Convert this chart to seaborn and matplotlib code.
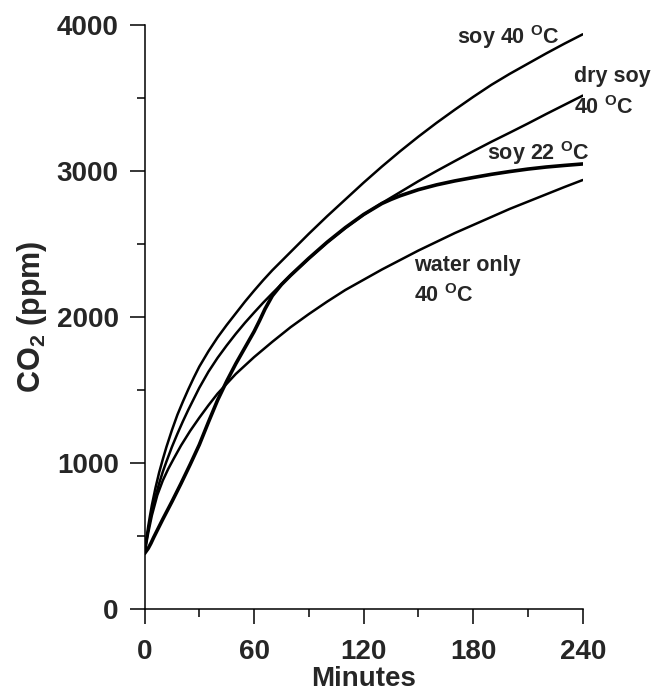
import matplotlib
matplotlib.use('Agg')
import matplotlib.pyplot as plt
import seaborn as sns
from matplotlib.ticker import MultipleLocator

# Data (minutes, ppm CO2)
soy40_t = [0, 1, 2, 3, 4, 6, 8, 10, 12, 15, 18, 21, 24, 27, 30, 35, 40, 45, 50, 55, 60, 65, 70,
           80, 90, 100, 110, 120, 130, 140, 150, 160, 170, 180, 190, 200, 210, 220, 230, 240]
soy40_v = [380, 480, 565, 640, 710, 830, 935, 1025, 1110, 1225, 1330, 1420, 1505, 1585, 1660, 1765, 1860, 1945, 2025, 2105, 2180, 2252, 2320,
           2445, 2570, 2690, 2805, 2920, 3030, 3135, 3235, 3330, 3420, 3507, 3590, 3665, 3735, 3805, 3872, 3936]

drysoy_t = [0, 1, 2, 3, 4, 6, 8, 10, 12, 15, 18, 21, 24, 27, 30, 35, 40, 45, 50, 55, 60, 65, 70,
            75, 80, 90, 100, 110, 120, 130, 140, 150, 160, 170, 180, 190, 200, 210, 220, 230, 240]
drysoy_v = [380, 465, 540, 605, 665, 770, 860, 940, 1010, 1110, 1200, 1285, 1365, 1440, 1515, 1625, 1720, 1805, 1885, 1960, 2030, 2098, 2162,
            2224, 2285, 2400, 2510, 2610, 2700, 2780, 2855, 2930, 3000, 3068, 3135, 3200, 3262, 3325, 3390, 3453, 3516]

soy22_t = [0, 2, 3.5, 5, 8, 10, 15, 20, 25, 30, 35, 40, 45, 50, 55, 60, 63, 66, 70, 75,
           80, 90, 100, 110, 120, 130, 135, 140, 150, 160, 170, 180, 190, 200, 210, 220, 230, 240]
soy22_v = [380, 415, 450, 490, 565, 615, 735, 860, 990, 1125, 1280, 1430, 1560, 1680, 1790, 1900, 1975, 2055, 2145, 2222,
           2285, 2402, 2512, 2612, 2702, 2777, 2805, 2830, 2872, 2905, 2932, 2955, 2977, 2996, 3013, 3027, 3038, 3048]

water_t = [0, 2, 4, 7, 10, 13, 16, 20, 25, 30, 35, 40, 50, 60, 70, 80, 90, 100, 110, 120,
           130, 140, 150, 160, 170, 180, 190, 200, 210, 220, 230, 240]
water_v = [380, 520, 640, 780, 880, 960, 1030, 1120, 1220, 1310, 1395, 1475, 1610, 1725, 1830, 1930, 2020, 2105, 2185, 2255,
           2325, 2390, 2455, 2515, 2575, 2630, 2685, 2740, 2790, 2840, 2890, 2938]

sns.set_style("ticks")
plt.rcParams['font.family'] = ['Liberation Sans', 'DejaVu Sans']
plt.rcParams['font.weight'] = 'bold'
plt.rcParams['mathtext.default'] = 'regular'

fig = plt.figure(figsize=(6.54, 6.93), dpi=100)
ax = fig.add_axes([0.221, 0.1212, 0.670, 0.8428])

sns.lineplot(x=soy40_t, y=soy40_v, color='black', lw=1.8, ax=ax)
sns.lineplot(x=drysoy_t, y=drysoy_v, color='black', lw=1.8, ax=ax)
sns.lineplot(x=water_t, y=water_v, color='black', lw=1.8, ax=ax)
sns.lineplot(x=soy22_t, y=soy22_v, color='black', lw=2.6, ax=ax)

ax.set_xlim(0, 240)
ax.set_ylim(0, 4000)
ax.xaxis.set_major_locator(MultipleLocator(60))
ax.xaxis.set_minor_locator(MultipleLocator(30))
ax.yaxis.set_major_locator(MultipleLocator(1000))
ax.yaxis.set_minor_locator(MultipleLocator(500))
ax.tick_params(which='major', length=10.5, width=1.1, labelsize=20, color='black')
ax.tick_params(which='minor', length=5.5, width=1.1, color='black')
ax.tick_params(axis='x', which='major', pad=11)
ax.tick_params(axis='y', which='major', pad=8)
for lab in ax.get_xticklabels() + ax.get_yticklabels():
    lab.set_fontweight('bold')
for s in ['top', 'right']:
    ax.spines[s].set_visible(False)
for s in ['left', 'bottom']:
    ax.spines[s].set_linewidth(1.1)
    ax.spines[s].set_color('black')

ax.set_xlabel('Minutes', fontsize=20, fontweight='bold', labelpad=1)
ax.set_ylabel('CO$_2$ (ppm)', fontsize=22, fontweight='bold', labelpad=6)

lab_kw = dict(fontsize=15.5, fontweight='bold', clip_on=False, va='center')
ax.text(171, 3915, 'soy 40 $^{O}$C', **lab_kw)
ax.text(235.5, 3645, 'dry soy', **lab_kw)
ax.text(235.5, 3435, '40 $^{O}$C', **lab_kw)
ax.text(187.5, 3120, 'soy 22 $^{O}$C', **lab_kw)
ax.text(147.5, 2355, 'water only', **lab_kw)
ax.text(147.5, 2150, '40 $^{O}$C', **lab_kw)

fig.savefig('out.png', dpi=100)
